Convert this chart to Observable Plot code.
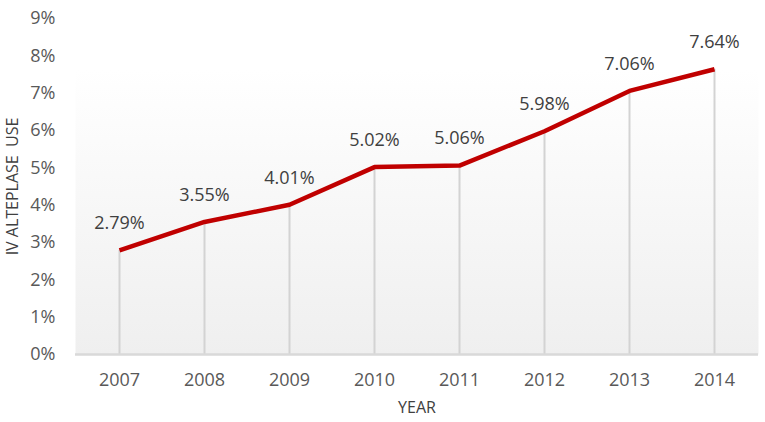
<!DOCTYPE html>
<html>
<head>
<meta charset="utf-8">
<script src="https://cdn.jsdelivr.net/npm/d3@7"></script>
<script src="https://cdn.jsdelivr.net/npm/@observablehq/plot@0.6"></script>
<style>
  html, body { margin: 0; padding: 0; background: #fff; }
  #chart { width: 765px; height: 422px; }
</style>
</head>
<body>
<div id="chart"></div>
<script>
const years = ["2007", "2008", "2009", "2010", "2011", "2012", "2013", "2014"];
const usePct = [2.79, 3.55, 4.01, 5.02, 5.06, 5.98, 7.06, 7.64];
const yTicks = [0, 1, 2, 3, 4, 5, 6, 7, 8, 9];

const data = years.map((y, i) => ({year: y, value: usePct[i]}));

const textColor = "#595959";

const chart = Plot.plot({
  width: 765,
  height: 422,
  marginLeft: 75,
  marginRight: 7,
  marginTop: 18,
  marginBottom: 68,
  style: {fontFamily: "'Open Sans', sans-serif", fontSize: "18px", color: textColor, background: "#fff"},
  x: {type: "point", domain: years, padding: 0.5, label: null},
  y: {domain: [0, 9], label: null},
  marks: [
    Plot.frame({fill: "url(#bgGrad)", stroke: "none"}),
    Plot.ruleX(data, {x: "year", y1: 0, y2: "value", stroke: "#d3d3d3", strokeWidth: 2}),
    Plot.ruleY([0], {stroke: "#d9d9d9", strokeWidth: 2.5}),
    Plot.axisY({ticks: yTicks, tickSize: 0, tickPadding: 20, tickFormat: d => d + "%", fill: textColor, fontSize: 18, label: null}),
    Plot.axisX({tickSize: 0, tickPadding: 19, fill: textColor, fontSize: 18, label: null}),
    Plot.line(data, {x: "year", y: "value", stroke: "#c00000", strokeWidth: 4.5, strokeLinejoin: "round", strokeLinecap: "butt"}),
    Plot.text(data, {x: "year", y: "value", text: d => d.value.toFixed(2) + "%", dy: -27, fill: "#404040", fontSize: 18}),
    Plot.text(["IV ALTEPLASE\u00a0\u00a0USE"], {frameAnchor: "left", textAnchor: "middle", dx: -63, rotate: -90, fill: "#404040", fontSize: 16}),
    Plot.text(["YEAR"], {frameAnchor: "bottom", dy: 58, fill: "#404040", fontSize: 16})
  ]
});

const defs = d3.select(chart).insert("defs", ":first-child");
const grad = defs.append("linearGradient").attr("id", "bgGrad").attr("x1", 0).attr("y1", 0).attr("x2", 0).attr("y2", 1);
grad.append("stop").attr("offset", "0").attr("stop-color", "#ffffff");
grad.append("stop").attr("offset", "0.15").attr("stop-color", "#ffffff");
grad.append("stop").attr("offset", "1").attr("stop-color", "#efefef");

document.getElementById("chart").appendChild(chart);
</script>
</body>
</html>
